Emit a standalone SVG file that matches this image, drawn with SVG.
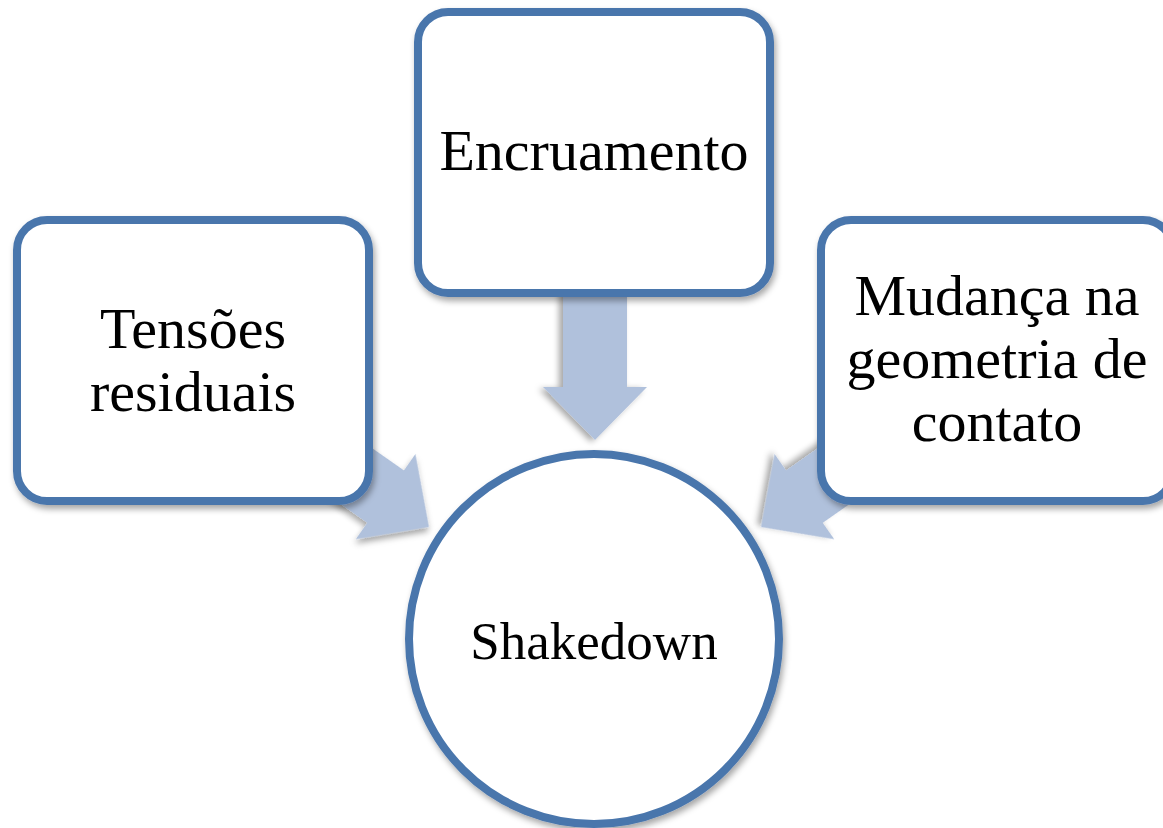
<svg xmlns="http://www.w3.org/2000/svg" width="1163" height="828" viewBox="0 0 1163 828">
<defs>
<filter id="sh" x="-20%" y="-20%" width="140%" height="140%">
<feDropShadow dx="2" dy="4" stdDeviation="3" flood-color="#000" flood-opacity="0.35"/>
</filter>
<polygon id="arr" points="0,0 -53,-52 -53,-32 -150,-32 -150,32 -53,32 -53,52"/>
</defs>
<style>
.box{fill:#fff;stroke:#4A76AC;stroke-width:8;filter:url(#sh)}
.arrow{fill:#B0C1DC;filter:url(#sh)}
.t{font-family:"Liberation Serif","Times New Roman",serif;font-size:58px;fill:#000;text-anchor:middle}
</style>
<rect width="1163" height="828" fill="#fff"/>
<g id="connectors">
<use href="#arr" class="arrow" transform="translate(595,440) rotate(90)"/>
<use href="#arr" class="arrow" transform="translate(429,527) rotate(35)"/>
<use href="#arr" class="arrow" transform="translate(761,527) rotate(145)"/>
</g>
<g id="node-tensoes">
<rect class="box" x="17" y="220" width="352" height="281" rx="30"/>
<text class="t" x="193" y="348">Tensões</text>
<text class="t" x="193" y="411">residuais</text>
</g>
<g id="node-encruamento">
<rect class="box" x="418" y="12" width="352" height="281" rx="30"/>
<text class="t" x="594" y="170">Encruamento</text>
</g>
<g id="node-mudanca">
<rect class="box" x="821" y="220" width="352" height="281" rx="30"/>
<text class="t" x="997" y="315">Mudança na</text>
<text class="t" x="997" y="378">geometria de</text>
<text class="t" x="997" y="441">contato</text>
</g>
<g id="node-shakedown">
<circle class="box" cx="594" cy="639" r="185"/>
<text class="t" x="594" y="659" style="font-size:53px">Shakedown</text>
</g>
</svg>
